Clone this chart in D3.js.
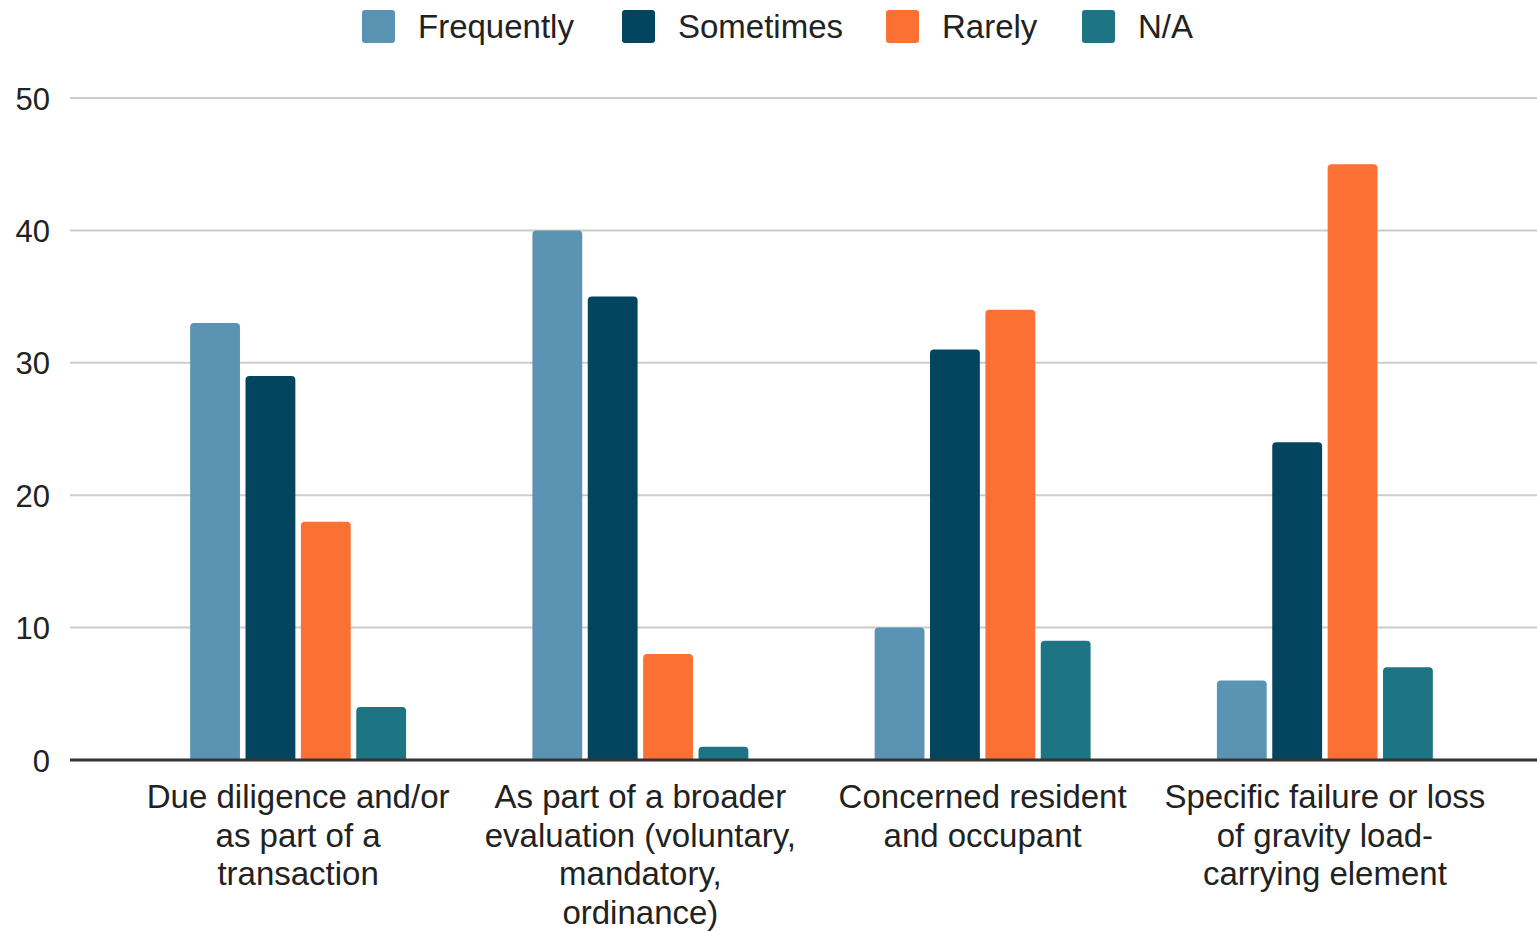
<!DOCTYPE html>
<html>
<head>
<meta charset="utf-8">
<script src="https://cdn.jsdelivr.net/npm/d3@7"></script>
<style>
  html, body { margin: 0; padding: 0; background: #fff; }
  svg { display: block; font-family: "Liberation Sans", Arial, sans-serif; }
</style>
</head>
<body>
<svg id="chart" width="1537" height="931"></svg>
<script>
// Survey categories (wrapped labels) and response counts per series
const categories = [
  ["Due diligence and/or", "as part of a", "transaction"],
  ["As part of a broader", "evaluation (voluntary,", "mandatory,", "ordinance)"],
  ["Concerned resident", "and occupant"],
  ["Specific failure or loss", "of gravity load-", "carrying element"]
];
const seriesNames = ["Frequently", "Sometimes", "Rarely", "N/A"];
const frequently = [33, 40, 10, 6];
const sometimes  = [29, 35, 31, 24];
const rarely     = [18, 8, 34, 45];
const notApplicable = [4, 1, 9, 7];
const yTicks = [0, 10, 20, 30, 40, 50];

const colors = ["#5b94b3", "#03445f", "#fd7034", "#1d7584"];
const seriesValues = [frequently, sometimes, rarely, notApplicable];

const svg = d3.select("#chart");
const catKeys = categories.map((c, i) => i);

const x0 = d3.scaleBand().domain(catKeys).range([127, 1496])
  .paddingInner(0.369).paddingOuter(0.1845);
const x1 = d3.scaleBand().domain(seriesNames).range([0, x0.bandwidth()])
  .paddingInner(0.1).paddingOuter(0);
const y = d3.scaleLinear().domain([0, 50]).range([760, 98]);
const color = d3.scaleOrdinal().domain(seriesNames).range(colors);

// Gridlines
svg.append("g").selectAll("line").data(yTicks.filter(t => t > 0)).join("line")
  .attr("x1", 70).attr("x2", 1537)
  .attr("y1", d => y(d)).attr("y2", d => y(d))
  .attr("stroke", "#cccccc").attr("stroke-width", 2);

// Y tick labels
const yAxis = d3.axisLeft(y).tickValues(yTicks).tickSize(0).tickPadding(0);
const yg = svg.append("g").attr("transform", "translate(50,0)").call(yAxis);
yg.select(".domain").remove();
yg.selectAll("text").attr("font-size", 31).attr("fill", "#222")
  .attr("font-family", "'Liberation Sans', Arial, sans-serif").attr("dy", "0.36em");

// Bars with rounded top corners
function topRounded(x, yTop, w, h, r) {
  r = Math.min(r, h, w / 2);
  return `M${x},${yTop + h}V${yTop + r}Q${x},${yTop} ${x + r},${yTop}` +
         `H${x + w - r}Q${x + w},${yTop} ${x + w},${yTop + r}V${yTop + h}Z`;
}

const rows = [];
catKeys.forEach(ci => seriesNames.forEach((s, si) => rows.push({ ci, s, v: seriesValues[si][ci] })));

svg.append("g").selectAll("path").data(rows).join("path")
  .attr("fill", d => color(d.s))
  .attr("d", d => topRounded(x0(d.ci) + x1(d.s), y(d.v), x1.bandwidth(), y(0) - y(d.v), 4));

// Baseline
svg.append("line").attr("x1", 70).attr("x2", 1537)
  .attr("y1", y(0)).attr("y2", y(0))
  .attr("stroke", "#333333").attr("stroke-width", 3);

// Category labels
const labels = svg.append("g").selectAll("text").data(catKeys).join("text")
  .attr("x", d => x0(d) + x0.bandwidth() / 2)
  .attr("y", 808)
  .attr("text-anchor", "middle")
  .attr("font-size", 33)
  .attr("fill", "#222");
labels.each(function(d) {
  d3.select(this).selectAll("tspan").data(categories[d]).join("tspan")
    .attr("x", x0(d) + x0.bandwidth() / 2)
    .attr("dy", (t, i) => i === 0 ? 0 : 38.5)
    .text(t => t);
});

// Legend
const legendX = [362, 622, 886, 1082];
const lg = svg.append("g").selectAll("g").data(seriesNames).join("g")
  .attr("transform", (d, i) => `translate(${legendX[i]},10)`);
lg.append("rect").attr("width", 33).attr("height", 33).attr("rx", 3)
  .attr("fill", d => color(d));
lg.append("text").attr("x", 56).attr("y", 28).attr("font-size", 33)
  .attr("fill", "#222").text(d => d);
</script>
</body>
</html>
